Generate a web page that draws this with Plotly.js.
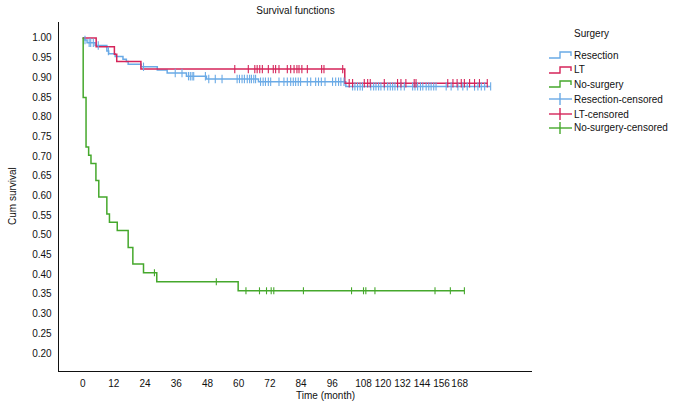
<!DOCTYPE html>
<html>
<head>
<meta charset="utf-8">
<script src="https://cdn.plot.ly/plotly-3.0.1.min.js"></script>
<style>html,body{margin:0;padding:0;background:#fff;}#chart{width:681px;height:406px;}</style>
</head>
<body>
<div id="chart"></div>
<script>
// ---- Data (months, cumulative survival) ----
var resTimes = [0, 0.8, 1.7, 4.8, 9.3, 10.0, 12.5, 15.5, 16.8, 17.5, 22.5, 28.7, 32.5, 39.9, 47.6, 67.6, 101.2, 156.9];
var resSurv  = [1.0, 0.995, 0.988, 0.981, 0.967, 0.960, 0.953, 0.946, 0.940, 0.933, 0.927, 0.919, 0.911, 0.903, 0.896, 0.889, 0.877, 0.877];

var ltTimes = [0, 5.2, 12.2, 13.1, 22.4, 100.8, 155.6];
var ltSurv  = [1.0, 0.978, 0.959, 0.940, 0.921, 0.885, 0.885];

var nsTimes = [0, 0.2, 1.3, 2.3, 3.2, 5.1, 6.2, 9.3, 10.3, 13.3, 17.5, 19.3, 23.4, 28.5, 59.8, 146.8];
var nsSurv  = [1.0, 0.849, 0.723, 0.702, 0.681, 0.638, 0.596, 0.553, 0.532, 0.511, 0.468, 0.426, 0.404, 0.381, 0.358, 0.358];

var resCensor = [0.9, 2.5, 3.1, 4.1, 6.0, 9.9, 23.4, 35.6, 38.2, 40.7, 41.4, 42.1, 42.7, 47.2, 48.5, 51.0, 53.6,
  59.4, 60.3, 61.3, 62.2, 63.3, 64.2, 64.9, 65.8, 66.5, 68.4, 69.4, 70.3, 71.4, 72.3, 75.5, 77.4, 78.7, 80.0,
  81.0, 81.9, 82.9, 83.8, 86.4, 87.7, 89.6, 90.7, 91.8, 93.2, 96.1, 97.3, 98.4, 99.3, 100.5,
  103.8, 104.7, 105.7, 106.7, 107.6, 110.8, 111.9, 112.8, 113.8, 114.7, 116.0, 117.3, 118.3, 119.2, 120.1,
  121.1, 122.4, 123.7, 126.9, 127.8, 128.8, 129.9, 130.8, 132.1, 133.1, 134.0, 135.0, 135.9, 139.8, 141.7,
  144.3, 146.2, 147.9, 150.7, 152.0, 153.3, 154.6, 156.9];
var ltCensor = [58.5, 63.7, 66.2, 67.1, 68.1, 69.1, 71.4, 73.3, 74.2, 75.5, 78.7, 80.0, 81.3, 82.4, 83.2, 84.3,
  86.4, 91.9, 92.8, 100.0, 102.5, 103.8, 108.3, 109.6, 110.6, 116.0, 121.1, 122.4, 124.3, 127.5, 128.2,
  140.4, 142.4, 144.0, 145.6, 146.8, 148.8, 150.7, 152.6, 155.6];
var nsCensor = [27.6, 51.4, 62.8, 68.0, 70.7, 72.5, 73.5, 84.9, 103.4, 108.0, 108.9, 112.4, 135.5, 141.4, 146.8];

var seriesNames = ['Resection', 'LT', 'No-surgery'];
var censorNames = ['Resection-censored', 'LT-censored', 'No-surgery-censored'];
var colors = ['#6aaae6', '#d5245a', '#45a82c'];

var xTickVals = [0, 12, 24, 36, 48, 60, 72, 84, 96, 108, 115.5, 123, 130.5, 138, 145];
var xTickText = ['0','12','24','36','48','60','72','84','96','108','120','132','144','156','168'];
var yTickVals = [0.20,0.25,0.30,0.35,0.40,0.45,0.50,0.55,0.60,0.65,0.70,0.75,0.80,0.85,0.90,0.95,1.00];

// ---- helpers ----
function stepAt(times, surv, t) {
  var s = surv[0];
  for (var i = 0; i < times.length; i++) { if (times[i] <= t) s = surv[i]; }
  return s;
}
var FONT = 'Liberation Sans, Arial, Helvetica, sans-serif';
var curves = [[resTimes, resSurv, resCensor], [ltTimes, ltSurv, ltCensor], [nsTimes, nsSurv, nsCensor]];
var markerSizes = [6, 6, 5];
var traces = [];
curves.forEach(function (c, i) {
  traces.push({
    x: c[0], y: c[1], type: 'scatter', mode: 'lines', name: seriesNames[i],
    line: {color: colors[i], width: 1.5, shape: 'hv'}, hoverinfo: 'x+y'
  });
});
curves.forEach(function (c, i) {
  traces.push({
    x: c[2], y: c[2].map(function (t) { return stepAt(c[0], c[1], t); }),
    type: 'scatter', mode: 'markers', name: censorNames[i],
    marker: {symbol: 'line-ns', size: markerSizes[i], color: colors[i], line: {color: colors[i], width: 1.1}}
  });
});

// plot area in pixels
var L = 59, R = 532, T = 22, B = 371, W = 681, H = 406;
function px(x) { return (x - L) / (R - L); }
function py(y) { return (B - y) / (B - T); }

var annotations = [
  {text: 'Time (month)', xref: 'paper', yref: 'paper', x: px(325), y: py(395), showarrow: false,
   xanchor: 'center', yanchor: 'middle', font: {family: FONT, size: 10, color: '#111'}},
  {text: 'Cum survival', xref: 'paper', yref: 'paper', x: px(12), y: py(196), showarrow: false,
   textangle: -90, xanchor: 'center', yanchor: 'middle', font: {family: FONT, size: 10, color: '#111'}},
  {text: 'Surgery', xref: 'paper', yref: 'paper', x: px(572), y: py(33), showarrow: false,
   xanchor: 'left', yanchor: 'middle', font: {family: FONT, size: 10, color: '#111'}}
];
var shapes = [];
var legendNames = seriesNames.concat(censorNames);
var legendY = [55, 70, 84, 99, 114, 128];
legendNames.forEach(function (nm, i) {
  var y = legendY[i], col = colors[i % 3];
  annotations.push({text: nm, xref: 'paper', yref: 'paper', x: px(572), y: py(y), showarrow: false,
    xanchor: 'left', yanchor: 'middle', font: {family: FONT, size: 10, color: '#111'}});
  if (i < 3) {
    var p = 'M' + px(549) + ',' + py(y + 3) + ' L' + px(560) + ',' + py(y + 3) + ' L' + px(560) + ',' + py(y - 3) +
            ' L' + px(571) + ',' + py(y - 3) + ' L' + px(571) + ',' + py(y + 1);
    shapes.push({type: 'path', xref: 'paper', yref: 'paper', path: p, line: {color: col, width: 1.4}});
  } else {
    shapes.push({type: 'line', xref: 'paper', yref: 'paper', x0: px(549), x1: px(572), y0: py(y), y1: py(y),
      line: {color: col, width: 1.4}});
    shapes.push({type: 'line', xref: 'paper', yref: 'paper', x0: px(560), x1: px(560), y0: py(y - 6), y1: py(y + 6),
      line: {color: col, width: 1.4}});
  }
});

var layout = {
  width: W, height: H,
  margin: {l: L, r: W - R, t: T, b: H - B, pad: 0},
  paper_bgcolor: '#fff', plot_bgcolor: '#fff',
  showlegend: false,
  font: {family: FONT, size: 10, color: '#111'},
  title: {text: 'Survival functions', font: {family: FONT, size: 10, color: '#111'},
          x: 0.5, xref: 'paper', xanchor: 'center', y: 1 - 10 / H, yref: 'container', yanchor: 'middle'},
  xaxis: {range: [-9.1, 172.8], tickmode: 'array', tickvals: xTickVals, ticktext: xTickText, tickangle: 0,
          showgrid: false, zeroline: false, showline: true, linecolor: '#111', linewidth: 1.3,
          ticks: '', ticklabelstandoff: 3, tickfont: {family: FONT, size: 10, color: '#111'}, fixedrange: true},
  yaxis: {range: [0.1543, 1.0406], tickmode: 'array', tickvals: yTickVals, tickformat: '.2f',
          showgrid: false, zeroline: false, showline: true, linecolor: '#111', linewidth: 1.3,
          ticks: '', ticklabelstandoff: 4, tickfont: {family: FONT, size: 10, color: '#111'}, fixedrange: true},
  annotations: annotations,
  shapes: shapes
};
Plotly.newPlot('chart', traces, layout, {displayModeBar: false, staticPlot: true});
</script>
</body>
</html>
